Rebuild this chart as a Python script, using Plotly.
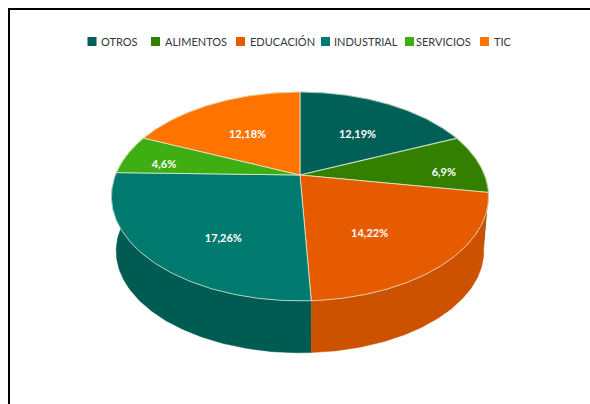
import numpy as np
import plotly.graph_objects as go

# Sector names, counts and the rounded shares shown on the slices
categories = ["OTROS", "ALIMENTOS", "EDUCACIÓN", "INDUSTRIAL", "SERVICIOS", "TIC"]
counts = [12, 6, 14, 17, 4, 12]
shares = [19, 9, 22, 26, 6, 18]

top_colors = ["#005f56", "#338000", "#e65a00", "#007a6e", "#3fae12", "#ff7300"]
side_colors = ["#004d45", "#2a6a00", "#cc5200", "#005c52", "#34900f", "#d96200"]

# Layout of the custom legend row, in page pixels
legend_marker_x = [92, 155.5, 240.5, 325.5, 409.5, 484.5]
legend_text_x = [99, 162.5, 247.5, 331.5, 413.5, 491.5]
LEGEND_Y = 41.5

# Pixel nudges that move each slice label away from its default spot
label_nudge_x = [4, 33, -20, 17, -29, 1]
label_nudge_y = [4, 6, 4, 12, 3, 4]

# Tilted-disc projection: the hub sits above the centre of the visible ellipse
HUB_X, HUB_Y = 300.0, 175.0
RADIUS_X, RADIUS_Y = 184.5, 100.0
TILT = -0.2057
THICK_Y = 55.0
THICK_SCALE = 0.975


def project(theta, scale=1.0, drop=0.0):
    """Map a clockwise-from-north angle on the disc to page coordinates."""
    depth = -np.cos(theta)
    w = 1 + TILT * depth
    x = HUB_X + scale * RADIUS_X * np.sin(theta) / w
    y = HUB_Y + drop + scale * RADIUS_Y * depth / w
    return x, y


fractions = np.cumsum([0] + counts) / sum(counts)
edges = 2 * np.pi * fractions

fig = go.Figure()

# Side wall of each slice, painted first so the top surface covers the back
for i in range(len(categories)):
    t = np.linspace(edges[i], edges[i + 1], 120)
    x1, y1 = project(t)
    x2, y2 = project(t[::-1], THICK_SCALE, THICK_Y)
    fig.add_trace(go.Scatter(
        x=np.r_[x1, x2], y=np.r_[y1, y2], mode="lines", fill="toself",
        fillcolor=side_colors[i], line=dict(color=side_colors[i], width=0.5),
        hoverinfo="skip", showlegend=False))

# Top surface of each slice
for i, name in enumerate(categories):
    t = np.linspace(edges[i], edges[i + 1], 120)
    x, y = project(t)
    fig.add_trace(go.Scatter(
        x=np.r_[HUB_X, x, HUB_X], y=np.r_[HUB_Y, y, HUB_Y], mode="lines",
        fill="toself", fillcolor=top_colors[i],
        line=dict(color="rgba(235,245,225,0.7)", width=1),
        name=name, hoverinfo="name", showlegend=False))

# Slice labels: count, share
label_x, label_y, label_text = [], [], []
for i in range(len(categories)):
    mid = (edges[i] + edges[i + 1]) / 2
    x, y = project(mid, 0.62)
    label_x.append(x + label_nudge_x[i])
    label_y.append(y + label_nudge_y[i])
    label_text.append(f"{counts[i]},{shares[i]}%")
fig.add_trace(go.Scatter(
    x=label_x, y=label_y, mode="text", text=label_text,
    textfont=dict(family="Lato", size=11, color="white", weight="bold"),
    hoverinfo="skip", showlegend=False))

# Legend row
fig.add_trace(go.Scatter(
    x=legend_marker_x, y=[LEGEND_Y] * len(categories), mode="markers",
    marker=dict(symbol="square", size=9, color=top_colors),
    hoverinfo="skip", showlegend=False))
annotations = [
    dict(x=x, y=LEGEND_Y, text=name, xref="x", yref="y", xanchor="left",
         yanchor="middle", showarrow=False,
         font=dict(family="Lato", size=11, color="#33383d"))
    for x, name in zip(legend_text_x, categories)
]

fig.update_layout(
    width=590, height=404, margin=dict(l=0, r=0, t=0, b=0),
    paper_bgcolor="white", plot_bgcolor="white", annotations=annotations,
    xaxis=dict(range=[0, 590], visible=False, fixedrange=True),
    yaxis=dict(range=[404, 0], visible=False, fixedrange=True),
    shapes=[dict(type="path", path="M 9 404 L 9 9 L 590 9",
                 line=dict(color="black", width=2), layer="above")],
)

fig.write_html("out.html")
